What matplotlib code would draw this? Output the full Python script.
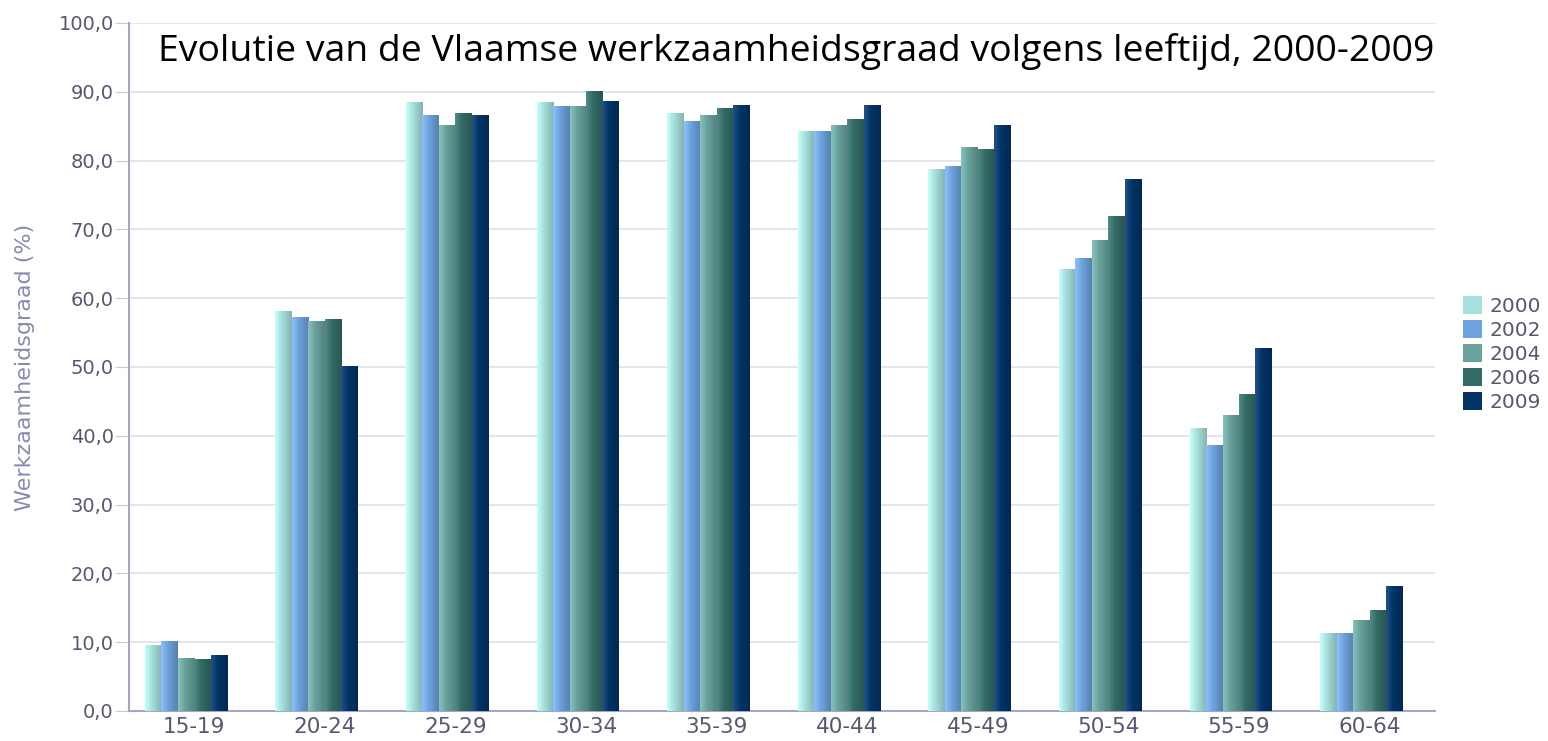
import numpy as np
import matplotlib.pyplot as plt
from matplotlib.colors import to_rgb
from matplotlib.patches import Patch

groepen = ['15-19', '20-24', '25-29', '30-34', '35-39', '40-44', '45-49', '50-54', '55-59', '60-64']
jaren = ['2000', '2002', '2004', '2006', '2009']
kleuren = ['#a6e0dc', '#6ea2dc', '#6aa29e', '#336b66', '#023467']

w2000 = [9.5, 58.1, 88.4, 88.4, 86.9, 84.2, 78.7, 64.2, 41.0, 11.3]
w2002 = [10.1, 57.2, 86.6, 87.8, 85.7, 84.2, 79.2, 65.7, 38.6, 11.3]
w2004 = [7.7, 56.6, 85.1, 87.8, 86.6, 85.1, 81.9, 68.4, 43.0, 13.1]
w2006 = [7.5, 56.9, 86.9, 90.1, 87.5, 86.0, 81.6, 71.9, 46.0, 14.6]
w2009 = [8.0, 50.1, 86.6, 88.6, 88.0, 88.0, 85.1, 77.2, 52.7, 18.1]
reeksen = [w2000, w2002, w2004, w2006, w2009]

fig = plt.figure(figsize=(15.48, 7.41), dpi=100)
ax = fig.add_axes([0.0833, 0.0405, 0.8437, 0.9285])

x = np.arange(len(groepen))
bw = 0.126
for i, (vals, kl) in enumerate(zip(reeksen, kleuren)):
    # balken staan in het origineel iets links van het label
    bars = ax.bar(x - 0.065 + (i - 2) * bw, vals, bw * 0.98, color=kl, zorder=2)
    # beetje schaduw zoals in het origineel
    base = np.array(to_rgb(kl))
    t = np.linspace(0, 1, 32)
    licht = np.minimum(base + 0.12, 1)
    donker = base * 0.8
    grad = np.array([licht + (base - licht) * min(v * 2.5, 1) if v < 0.4 else base + (donker - base) * (v - 0.4) / 0.6 for v in t])
    for b in bars:
        ax.imshow(grad[None, :, :], extent=(b.get_x(), b.get_x() + b.get_width(), 0, b.get_height()),
                  aspect='auto', zorder=3, interpolation='bilinear')

ax.set_xlim(-0.5, len(groepen) - 0.5)
ax.set_ylim(0, 100)
ax.set_xticks(x)
ax.set_xticklabels(groepen)
ax.set_yticks(np.arange(0, 101, 10))
ax.set_yticklabels([f'{v:.1f}'.replace('.', ',') for v in np.arange(0, 101, 10)])
ax.grid(axis='y', color='#dedfea', linewidth=1.2, zorder=0)
ax.set_axisbelow(True)
for s in ['top', 'right']:
    ax.spines[s].set_visible(False)
for s in ['left', 'bottom']:
    ax.spines[s].set_color('#a4a6c8')
    ax.spines[s].set_linewidth(1.5)
ax.tick_params(axis='y', length=10, color='#c8cadc', labelsize=14, labelcolor='#555870', pad=1)
ax.tick_params(axis='x', length=0, labelsize=15.5, labelcolor='#555870', pad=4)
ax.set_ylabel('Werkzaamheidsgraad (%)', fontsize=16, color='#858cb2', labelpad=17)

ax.text(0.511, 0.958, 'Evolutie van de Vlaamse werkzaamheidsgraad volgens leeftijd, 2000-2009',
        transform=ax.transAxes, ha='center', va='center', fontsize=26.9, family='Open Sans',
        color='black', zorder=5)

handles = [Patch(facecolor=k, edgecolor='none') for k in kleuren]
fig.legend(handles, jaren, loc='center left', bbox_to_anchor=(0.945, 0.522), frameon=False,
           fontsize=14.5, labelcolor='#555870', handlelength=0.95, handleheight=0.95,
           handletextpad=0.35, labelspacing=0.22, borderpad=0, borderaxespad=0)

fig.savefig('out.png', dpi=100)
